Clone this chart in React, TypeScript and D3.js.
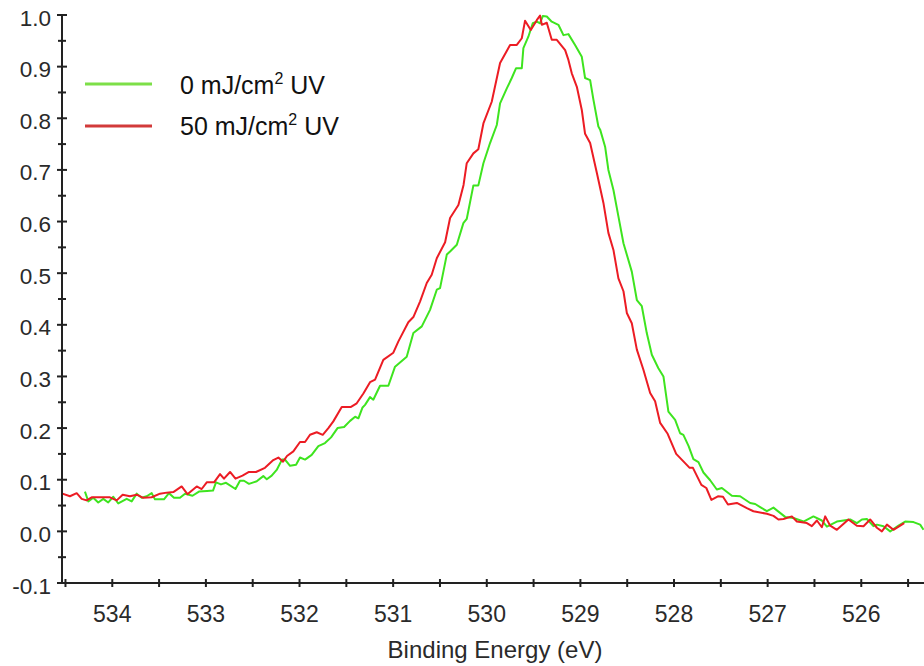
import React from 'react';
import * as d3 from 'd3';

const xMajorTicks = [534, 533, 532, 531, 530, 529, 528, 527, 526];
const xMinorTicks = [534.5, 533.5, 532.5, 531.5, 530.5, 529.5, 528.5, 527.5, 526.5, 525.5];
const yMajorTicks = [-0.1, 0.0, 0.1, 0.2, 0.3, 0.4, 0.5, 0.6, 0.7, 0.8, 0.9, 1.0];
const yMinorTicks = [-0.05, 0.05, 0.15, 0.25, 0.35, 0.45, 0.55, 0.65, 0.75, 0.85, 0.95];

const legendLabels = ['0 mJ/cm² UV', '50 mJ/cm² UV'];

// [binding energy (eV), normalized intensity]
const uv50Series: [number, number][] = [
  [534.548, 0.074], [534.452, 0.068], [534.380, 0.074], [534.327, 0.063], [534.274, 0.060],
  [534.220, 0.066], [534.025, 0.066], [533.953, 0.060], [533.889, 0.071], [533.811, 0.068],
  [533.739, 0.071], [533.669, 0.065], [533.579, 0.066], [533.490, 0.073], [533.419, 0.075],
  [533.348, 0.076], [533.259, 0.087], [533.197, 0.072], [533.098, 0.087], [533.045, 0.082],
  [532.991, 0.095], [532.913, 0.095], [532.849, 0.111], [532.807, 0.102], [532.742, 0.115],
  [532.684, 0.102], [532.609, 0.108], [532.540, 0.115], [532.465, 0.115], [532.369, 0.123],
  [532.280, 0.138], [532.226, 0.143], [532.176, 0.135], [532.134, 0.146], [532.066, 0.155],
  [531.995, 0.173], [531.941, 0.173], [531.888, 0.187], [531.816, 0.192], [531.752, 0.187],
  [531.692, 0.200], [531.639, 0.213], [531.549, 0.241], [531.450, 0.241], [531.389, 0.248],
  [531.318, 0.267], [531.247, 0.289], [531.193, 0.294], [531.105, 0.332], [530.998, 0.346],
  [530.944, 0.368], [530.838, 0.405], [530.784, 0.415], [530.713, 0.445], [530.641, 0.481],
  [530.588, 0.497], [530.534, 0.529], [530.445, 0.560], [530.392, 0.607], [530.303, 0.632],
  [530.248, 0.671], [530.214, 0.713], [530.143, 0.732], [530.090, 0.740], [530.036, 0.790],
  [529.947, 0.832], [529.858, 0.907], [529.751, 0.942], [529.679, 0.942], [529.626, 0.955],
  [529.591, 0.989], [529.530, 0.971], [529.466, 0.990], [529.431, 0.999], [529.412, 0.981],
  [529.359, 0.985], [529.306, 0.952], [529.252, 0.952], [529.163, 0.932], [529.128, 0.913],
  [529.092, 0.887], [529.038, 0.861], [528.985, 0.816], [528.950, 0.770], [528.896, 0.752],
  [528.824, 0.694], [528.754, 0.636], [528.701, 0.578], [528.647, 0.545], [528.594, 0.490],
  [528.540, 0.465], [528.504, 0.423], [528.451, 0.403], [528.397, 0.352], [528.327, 0.313],
  [528.255, 0.268], [528.202, 0.252], [528.148, 0.210], [528.068, 0.189], [527.977, 0.150],
  [527.833, 0.123], [527.798, 0.123], [527.708, 0.090], [527.655, 0.084], [527.601, 0.061],
  [527.531, 0.068], [527.477, 0.067], [527.424, 0.052], [527.329, 0.055], [527.222, 0.045],
  [527.152, 0.039], [527.008, 0.034], [526.938, 0.030], [526.885, 0.023], [526.831, 0.024],
  [526.741, 0.029], [526.688, 0.019], [526.581, 0.016], [526.528, 0.010], [526.474, 0.021],
  [526.421, 0.008], [526.385, 0.029], [526.332, 0.011], [526.261, 0.003], [526.137, 0.023],
  [526.047, 0.011], [525.976, 0.010], [525.905, 0.023], [525.833, 0.007], [525.780, 0.000],
  [525.726, 0.013], [525.656, 0.003], [525.584, 0.011], [525.542, 0.016],
];

const uv0Series: [number, number][] = [
  [534.292, 0.077], [534.256, 0.058], [534.203, 0.065], [534.150, 0.056], [534.096, 0.063],
  [534.043, 0.056], [533.989, 0.067], [533.936, 0.054], [533.846, 0.063], [533.793, 0.058],
  [533.739, 0.073], [533.686, 0.065], [533.632, 0.068], [533.579, 0.074], [533.544, 0.062],
  [533.448, 0.062], [533.394, 0.074], [533.341, 0.065], [533.277, 0.065], [533.223, 0.073],
  [533.143, 0.069], [533.074, 0.077], [532.988, 0.078], [532.924, 0.079], [532.892, 0.095],
  [532.839, 0.091], [532.785, 0.094], [532.684, 0.082], [532.636, 0.098], [532.593, 0.098],
  [532.540, 0.092], [532.457, 0.097], [532.387, 0.107], [532.350, 0.101], [532.297, 0.108],
  [532.244, 0.119], [532.187, 0.139], [532.155, 0.139], [532.101, 0.127], [532.037, 0.129],
  [531.995, 0.143], [531.941, 0.139], [531.870, 0.148], [531.799, 0.165], [531.728, 0.171],
  [531.663, 0.182], [531.594, 0.200], [531.524, 0.202], [531.460, 0.214], [531.406, 0.222],
  [531.371, 0.219], [531.327, 0.240], [531.300, 0.245], [531.247, 0.260], [531.212, 0.255],
  [531.140, 0.282], [531.051, 0.282], [530.980, 0.319], [530.855, 0.338], [530.784, 0.384],
  [530.694, 0.397], [530.606, 0.429], [530.534, 0.468], [530.499, 0.471], [530.427, 0.536],
  [530.392, 0.542], [530.320, 0.555], [530.250, 0.597], [530.214, 0.605], [530.143, 0.670],
  [530.090, 0.670], [530.036, 0.713], [529.965, 0.752], [529.893, 0.787], [529.858, 0.829],
  [529.786, 0.858], [529.733, 0.878], [529.687, 0.897], [529.626, 0.897], [529.609, 0.936],
  [529.556, 0.958], [529.509, 0.984], [529.466, 0.987], [529.431, 0.984], [529.402, 0.998],
  [529.359, 0.997], [529.306, 0.987], [529.235, 0.981], [529.181, 0.961], [529.128, 0.963],
  [529.057, 0.942], [528.985, 0.919], [528.950, 0.878], [528.896, 0.874], [528.861, 0.836],
  [528.808, 0.784], [528.789, 0.778], [528.736, 0.745], [528.701, 0.700], [528.647, 0.661],
  [528.594, 0.610], [528.540, 0.558], [528.451, 0.503], [528.397, 0.448], [528.344, 0.436],
  [528.291, 0.384], [528.237, 0.342], [528.167, 0.316], [528.113, 0.300], [528.060, 0.232],
  [527.988, 0.216], [527.935, 0.190], [527.900, 0.187], [527.844, 0.165], [527.793, 0.140],
  [527.739, 0.134], [527.686, 0.114], [527.614, 0.099], [527.543, 0.081], [527.489, 0.084],
  [527.382, 0.069], [527.294, 0.068], [527.187, 0.055], [527.133, 0.053], [527.080, 0.047],
  [527.008, 0.039], [526.938, 0.046], [526.813, 0.028], [526.724, 0.026], [526.617, 0.019],
  [526.511, 0.029], [526.421, 0.021], [526.367, 0.009], [526.261, 0.019], [526.118, 0.023],
  [526.047, 0.016], [525.993, 0.023], [525.940, 0.024], [525.870, 0.010], [525.833, 0.013],
  [525.763, 0.010], [525.691, 0.000], [525.602, 0.011], [525.531, 0.019], [525.442, 0.018],
  [525.371, 0.013], [525.335, 0.003],
];

const FONT = '"Liberation Sans", Arial, Helvetica, sans-serif';
const INK = '#222';
const LABEL = '#2a2a2a';

function LegendText({ label, x, y }: { label: string; x: number; y: number }) {
  const [pre, post] = label.split('²');
  return (
    <text x={x} y={y} fontSize={25} fill="#111">
      {pre}
      <tspan fontSize={16} dy={-10}>2</tspan>
      <tspan dy={10}>{post}</tspan>
    </text>
  );
}

export default function App() {
  const W = 924;
  const H = 666;
  const left = 62;
  const right = 924;
  const top = 15;
  const bottom = 583;

  const x = d3.scaleLinear().domain([534.537, 525.33]).range([left, right]);
  const y = d3.scaleLinear().domain([-0.1, 1.0]).range([bottom, top]);
  const line = d3
    .line<[number, number]>()
    .x((d) => x(d[0]))
    .y((d) => y(d[1]));

  const green = '#3ee41f';
  const red = '#ec1c24';
  const legendGreen = '#7ddf48';
  const legendRed = '#d23a3a';

  return (
    <svg
      width={W}
      height={H}
      style={{ position: 'absolute', left: 0, top: 0, background: '#fff' }}
      fontFamily={FONT}
    >
      <defs>
        <clipPath id="plotClip">
          <rect x={left} y={top - 5} width={right - left} height={bottom - top + 5} />
        </clipPath>
      </defs>

      {/* data lines */}
      <g clipPath="url(#plotClip)" fill="none" strokeWidth={2} strokeLinejoin="round">
        <path d={line(uv0Series) || ''} stroke={green} />
        <path d={line(uv50Series) || ''} stroke={red} />
      </g>

      {/* y axis */}
      <line x1={left} x2={left} y1={y(1.0)} y2={bottom} stroke={INK} strokeWidth={2} />
      {yMajorTicks.map((t) => (
        <g key={'ym' + t}>
          <line x1={left - 5} x2={left + 5} y1={y(t)} y2={y(t)} stroke={INK} strokeWidth={2} />
          <text x={51} y={y(t) + 10.5} textAnchor="end" fontSize={22.5} fill={LABEL}>
            {t.toFixed(1)}
          </text>
        </g>
      ))}
      {yMinorTicks.map((t) => (
        <line key={'yn' + t} x1={left - 4} x2={left + 4} y1={y(t)} y2={y(t)} stroke={INK} strokeWidth={2} />
      ))}

      {/* x axis */}
      <line x1={left} x2={right} y1={bottom} y2={bottom} stroke={INK} strokeWidth={2} />
      {xMajorTicks.map((t) => (
        <g key={'xm' + t}>
          <line x1={x(t)} x2={x(t)} y1={bottom - 4} y2={bottom + 4} stroke={INK} strokeWidth={2} />
          <text x={x(t)} y={621.5} textAnchor="middle" fontSize={23} fill={LABEL}>
            {t}
          </text>
        </g>
      ))}
      {xMinorTicks.map((t) => (
        <line key={'xn' + t} x1={x(t)} x2={x(t)} y1={bottom - 4} y2={bottom + 4} stroke={INK} strokeWidth={2} />
      ))}
      <text x={495} y={658} textAnchor="middle" fontSize={24} fill={LABEL}>
        Binding Energy (eV)
      </text>

      {/* legend */}
      <line x1={85} x2={152} y1={84} y2={84} stroke={legendGreen} strokeWidth={3} />
      <LegendText label={legendLabels[0]} x={180} y={94} />
      <line x1={85} x2={152} y1={126} y2={126} stroke={legendRed} strokeWidth={3} />
      <LegendText label={legendLabels[1]} x={180} y={135} />
    </svg>
  );
}
